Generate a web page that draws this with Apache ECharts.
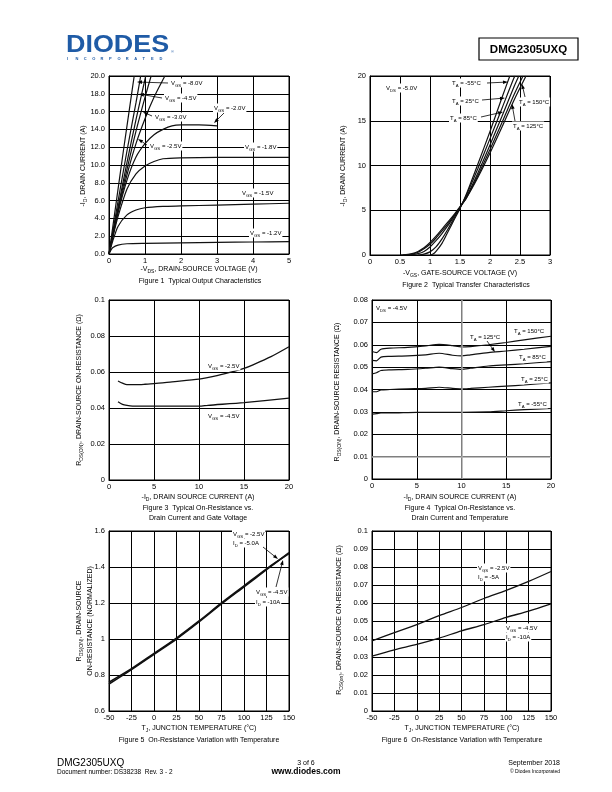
<!DOCTYPE html>
<html><head><meta charset="utf-8">
<script src="https://cdn.jsdelivr.net/npm/echarts@6/dist/echarts.min.js"></script>
<style>html,body{margin:0;padding:0;background:#fff}#c{width:612px;height:792px}</style>
</head><body><div id="c"></div>
<script>
// ---------------- DATA ----------------
// Figure 1: Output characteristics  [-VDS (V), -ID (A)]
const fig1_vgs_m8_0 = [[0,0],[0.2,5.8],[0.4,11.6],[0.6,17.2],[0.7,20]];
const fig1_vgs_m4_5 = [[0,0],[0.25,5.9],[0.5,11.6],[0.75,17.0],[0.88,20]];
const fig1_vgs_m3_0 = [[0,0],[0.25,5.2],[0.5,10.3],[0.75,15.1],[1.02,20]];
const fig1_vgs_extra = [[0,0],[0.25,5.0],[0.5,9.5],[0.75,13.8],[1.0,17.6],[1.17,20]];
const fig1_vgs_m2_5 = [[0,0],[0.25,4.8],[0.5,8.9],[0.75,12.4],[1.0,15.2],[1.25,17.6],[1.5,19.6],[1.55,20]];
const fig1_vgs_m2_0 = [[0,0],[0.25,4.6],[0.5,8.3],[0.75,10.9],[1,12.4],[1.25,13.4],[1.5,14.0],[1.75,14.4],[2,14.5],[2.5,14.5],[3,14.4]];
const fig1_vgs_m1_8 = [[0,0],[0.1,1.8],[0.25,4.2],[0.5,7.3],[0.75,9.0],[1,9.9],[1.25,10.4],[1.5,10.7],[2,10.8],[3,10.85],[4,10.85],[5,10.85]];
const fig1_vgs_m1_5 = [[0,0],[0.1,1.4],[0.25,3.1],[0.5,4.4],[0.75,4.95],[1,5.2],[1.5,5.35],[2,5.4],[3,5.5],[4,5.6],[5,5.7]];
const fig1_vgs_m1_2 = [[0,0],[0.05,0.4],[0.1,0.7],[0.25,1.0],[0.5,1.15],[1,1.2],[2,1.25],[3,1.3],[4,1.35],[5,1.4]];

// Figure 2: Transfer characteristics [-VGS (V), -ID (A)]
const fig2_ta_m55 = [[1.0,0],[1.05,0.1],[1.1,0.4],[1.2,1.3],[1.3,2.6],[1.4,3.9],[1.5,5.2],[1.6,6.7],[1.8,10.2],[2.0,13.8],[2.2,17.6],[2.33,20]];
const fig2_ta_25 = [[0.8,0],[0.9,0.1],[1.0,0.35],[1.1,0.9],[1.2,1.8],[1.3,2.9],[1.4,4.1],[1.5,5.3],[1.6,6.6],[1.8,9.7],[2.0,13.0],[2.2,16.4],[2.4,19.8],[2.42,20]];
const fig2_ta_85 = [[0.6,0],[0.7,0.05],[0.8,0.15],[0.9,0.4],[1.0,0.9],[1.1,1.6],[1.2,2.4],[1.3,3.3],[1.4,4.3],[1.5,5.3],[1.6,6.4],[1.8,9.2],[2.0,12.3],[2.2,15.5],[2.4,18.8],[2.48,20]];
const fig2_ta_125 = [[0.55,0],[0.7,0.1],[0.8,0.3],[0.9,0.7],[1.0,1.2],[1.1,1.9],[1.2,2.7],[1.3,3.5],[1.4,4.4],[1.5,5.35],[1.6,6.3],[1.8,8.9],[2.0,11.8],[2.2,14.8],[2.4,17.9],[2.55,20]];
const fig2_ta_150 = [[0.5,0],[0.6,0.05],[0.7,0.15],[0.8,0.4],[0.9,0.8],[1.0,1.4],[1.1,2.1],[1.2,2.9],[1.3,3.7],[1.4,4.5],[1.5,5.4],[1.6,6.3],[1.8,8.7],[2.0,11.4],[2.2,14.3],[2.4,17.3],[2.6,20]];

// Figure 3: RDS(ON) vs -ID, gate voltage [-ID (A), RDS (ohm)]
const fig3_vgs_m2_5 = [[1,0.055],[1.5,0.0538],[2,0.053],[3,0.053],[4,0.0532],[5,0.0535],[7,0.0545],[10,0.056],[12,0.058],[14,0.0605],[15,0.062],[16,0.064],[18,0.0685],[20,0.074]];
const fig3_vgs_m4_5 = [[1,0.0435],[1.5,0.042],[2,0.0415],[3,0.041],[5,0.041],[10,0.041],[11,0.0415],[15,0.043],[20,0.0455]];

// Figure 4: RDS(ON) vs -ID, temperature
const fig4_ta_150 = [[0,0.057],[0.5,0.0565],[1,0.058],[2,0.0585],[4,0.0588],[6,0.0595],[7.5,0.0602],[9,0.0596],[10,0.059],[11,0.0592],[13,0.060],[15,0.061],[17,0.0622],[20,0.0638]];
const fig4_ta_125 = [[0,0.053],[0.5,0.0528],[1,0.0545],[2,0.0548],[4,0.055],[6,0.0555],[7.5,0.0562],[9,0.0553],[10,0.055],[11,0.0555],[13,0.0565],[15,0.0572],[17,0.058],[20,0.0593]];
const fig4_ta_85 = [[0,0.047],[0.5,0.0475],[1,0.0485],[2,0.0488],[4,0.049],[6,0.0495],[7.5,0.050],[9,0.0493],[10,0.049],[11,0.0495],[13,0.0505],[15,0.051],[17,0.0515],[20,0.0525]];
const fig4_ta_25 = [[0,0.039],[0.5,0.039],[1,0.0398],[2,0.040],[4,0.0403],[6,0.0405],[7.5,0.041],[9,0.0405],[10,0.0403],[11,0.0405],[13,0.041],[15,0.0415],[17,0.042],[20,0.043]];
const fig4_ta_m55 = [[0,0.029],[0.5,0.0292],[1,0.0295],[2,0.0295],[5,0.0298],[10,0.0298],[13,0.030],[15,0.0305],[17,0.031],[20,0.0315]];

// Figure 5: normalized RDS(ON) vs TJ
const fig5_vgs_m2_5 = [[-50,0.75],[-25,0.83],[0,0.915],[25,1.0],[50,1.095],[75,1.195],[100,1.29],[125,1.385],[150,1.48]];
const fig5_vgs_m4_5 = [[-50,0.76],[-25,0.835],[0,0.92],[25,1.005],[50,1.1],[75,1.2],[100,1.295],[125,1.39],[150,1.475]];

// Figure 6: RDS(ON) vs TJ
const fig6_vgs_m2_5 = [[-50,0.039],[-25,0.0435],[0,0.048],[25,0.053],[50,0.0575],[75,0.0625],[100,0.067],[125,0.072],[150,0.0775]];
const fig6_vgs_m4_5 = [[-50,0.0305],[-25,0.034],[0,0.037],[25,0.0405],[50,0.0445],[75,0.048],[100,0.052],[125,0.0555],[150,0.0595]];

// ---------------- RENDER ----------------
const FONT = '"Liberation Sans", Arial, Helvetica, sans-serif';
const chart = echarts.init(document.getElementById('c'), null, {renderer:'canvas'});

const grids = [
  {left:109, top:76, width:180, height:178},
  {left:370, top:76, width:180, height:179},
  {left:109, top:300, width:180, height:180},
  {left:372, top:300, width:179, height:179},
  {left:109, top:531, width:180, height:180},
  {left:372, top:531, width:179, height:180}
].map(g => Object.assign({show:true, borderColor:'#000', borderWidth:1, containLabel:false}, g));

function axis(gi, min, max, interval, fmt, isY){
  return {
    gridIndex:gi, type:'value', min, max, interval,
    axisLine:{show:true, onZero:false, lineStyle:{color:'#000', width:1}},
    axisTick:{show:false},
    splitLine:{show:true, lineStyle:{color:'#000', width:1}},
    axisLabel:{fontSize:7.5, color:'#000', fontFamily:FONT, margin:isY?4:3, formatter:fmt, showMinLabel:true, showMaxLabel:true}
  };
}
const xAxes = [
  axis(0,0,5,1,null,false), axis(1,0,3,0.5,null,false), axis(2,0,20,5,null,false),
  axis(3,0,20,5,null,false), axis(4,-50,150,25,null,false), axis(5,-50,150,25,null,false)
];
const yAxes = [
  axis(0,0,20,2,v=>v.toFixed(1),true), axis(1,0,20,5,null,true), axis(2,0,0.1,0.02,null,true),
  axis(3,0,0.08,0.01,null,true), axis(4,0.6,1.6,0.2,null,true), axis(5,0,0.1,0.01,null,true)
];

function ser(gi, name, data, extra){
  return Object.assign({type:'line', name, xAxisIndex:gi, yAxisIndex:gi, data, showSymbol:false, symbol:'none',
    smooth:0.25, clip:true, silent:true,
    lineStyle:{color:'#111', width:1.2}}, extra||{});
}
const series = [
  ser(0,'VGS=-8.0V',fig1_vgs_m8_0), ser(0,'VGS=-4.5V',fig1_vgs_m4_5), ser(0,'VGS=-3.0V',fig1_vgs_m3_0),
  ser(0,'extra',fig1_vgs_extra), ser(0,'VGS=-2.5V',fig1_vgs_m2_5), ser(0,'VGS=-2.0V',fig1_vgs_m2_0),
  ser(0,'VGS=-1.8V',fig1_vgs_m1_8), ser(0,'VGS=-1.5V',fig1_vgs_m1_5), ser(0,'VGS=-1.2V',fig1_vgs_m1_2),
  ser(1,'TA=-55',fig2_ta_m55), ser(1,'TA=25',fig2_ta_25), ser(1,'TA=85',fig2_ta_85),
  ser(1,'TA=125',fig2_ta_125), ser(1,'TA=150',fig2_ta_150),
  ser(2,'VGS=-2.5V',fig3_vgs_m2_5,{lineStyle:{color:'#111',width:1.3}}), ser(2,'VGS=-4.5V',fig3_vgs_m4_5,{lineStyle:{color:'#111',width:1.3}}),
  ser(3,'TA=150',fig4_ta_150,{markLine:{silent:true,symbol:'none',label:{show:false},lineStyle:{color:'#aaa',width:1.5,type:'solid'},data:[{xAxis:10},{yAxis:0.01}]}}),
  ser(3,'TA=125',fig4_ta_125), ser(3,'TA=85',fig4_ta_85), ser(3,'TA=25',fig4_ta_25), ser(3,'TA=-55',fig4_ta_m55),
  ser(4,'VGS=-2.5V',fig5_vgs_m2_5,{smooth:0.3,lineStyle:{color:'#111',width:1.6}}), ser(4,'VGS=-4.5V',fig5_vgs_m4_5,{smooth:0.3,lineStyle:{color:'#111',width:1.6}}),
  ser(5,'VGS=-2.5V',fig6_vgs_m2_5,{smooth:0.3,lineStyle:{color:'#111',width:1.3}}), ser(5,'VGS=-4.5V',fig6_vgs_m4_5,{smooth:0.3,lineStyle:{color:'#111',width:1.3}})
];

// ---- text helpers ----
function richText(parts){ return parts.map(p => p[0]==='_' ? `{s|${p.slice(1)}}` : `{n|${p}}`).join(''); }
function richStyles(size){
  return {
    n:{fontSize:size, fontFamily:FONT, fill:'#000', color:'#000', lineHeight:size+3, verticalAlign:'middle'},
    s:{fontSize:Math.round(size*0.72*10)/10, fontFamily:FONT, fill:'#000', color:'#000', lineHeight:size+3, verticalAlign:'bottom'}
  };
}
function T(x, y, parts, size, opt){
  opt = opt || {};
  const st = {text:richText(parts), rich:richStyles(size), fontSize:size, fontFamily:FONT, fill:'#000',
    align:opt.align||'left', textAlign:opt.align||'left', verticalAlign:'middle', textVerticalAlign:'middle'};
  if (opt.bg) { st.backgroundColor = '#fff'; st.padding = [0,1]; }
  const el = {type:'text', x, y, z:100, silent:true, style:st};
  if (opt.rot) el.rotation = opt.rot;
  return el;
}
function P(x, y, text, size, opt){
  opt = opt || {};
  const el = {type:'text', x, y, z:100, silent:true, style:{text, fontSize:size, fontFamily:opt.family||FONT, fontWeight:opt.weight||'normal',
    fill:opt.color||'#000', align:opt.align||'left', textAlign:opt.align||'left', verticalAlign:'middle', textVerticalAlign:'middle'}};
  if (opt.rot) el.rotation = opt.rot;
  if (opt.scaleX) el.scaleX = opt.scaleX;
  return el;
}
function arrow(x1,y1,x2,y2){
  const a = Math.atan2(y2-y1, x2-x1), L = 5, W = 1.8;
  const bx = x2 - L*Math.cos(a), by = y2 - L*Math.sin(a);
  return [
    {type:'line', z:101, silent:true, shape:{x1,y1,x2:bx,y2:by}, style:{stroke:'#000', lineWidth:0.8}},
    {type:'polygon', z:101, silent:true, shape:{points:[[x2,y2],[bx+W*Math.sin(a), by-W*Math.cos(a)],[bx-W*Math.sin(a), by+W*Math.cos(a)]]}, style:{fill:'#000'}}
  ];
}
const R = Math.PI/2;
const AS = 6; // annotation size

const graphic = [
  // header logo
  P(66, 45, 'DIODES', 24, {weight:'bold', color:'#1f5ba6', scaleX:1.12}),
  P(171, 52, '®', 4, {color:'#1f5ba6'}),
  ...'INCORPORATED'.split('').map((ch,i) => P(67 + i*8.4, 59, ch, 4, {color:'#1f5ba6', weight:'bold'})),
  {type:'rect', z:100, silent:true, shape:{x:479, y:38, width:99, height:22}, style:{fill:'none', stroke:'#000', lineWidth:1.2}},
  P(528.5, 49.5, 'DMG2305UXQ', 11.5, {weight:'bold', align:'center'}),

  // ---- Figure 1 ----
  T(83, 166, ['-I','_D',', DRAIN CURRENT (A)'], 7, {align:'center', rot:R}),
  T(199, 269, ['-V','_DS',', DRAIN-SOURCE VOLTAGE (V)'], 7, {align:'center'}),
  P(200, 281, 'Figure 1  Typical Output Characteristics', 7, {align:'center'}),
  T(170, 83, ['V','_GS',' = -8.0V'], AS, {bg:true}), ...arrow(168,83,137,82),
  T(164, 98, ['V','_GS',' = -4.5V'], AS, {bg:true}), ...arrow(162,98,139,94),
  T(154, 117, ['V','_GS',' = -3.0V'], AS, {bg:true}), ...arrow(152,116,143,112),
  T(149, 146, ['V','_GS',' = -2.5V'], AS, {bg:true}), ...arrow(147,145,138,139),
  T(213, 108, ['V','_GS',' = -2.0V'], AS, {bg:true}), ...arrow(224,113,214,123),
  T(244, 147, ['V','_GS',' = -1.8V'], AS, {bg:true}),
  T(241, 193, ['V','_GS',' = -1.5V'], AS, {bg:true}),
  T(249, 233, ['V','_GS',' = -1.2V'], AS, {bg:true}),

  // ---- Figure 2 ----
  T(343, 166, ['-I','_D',', DRAIN CURRENT (A)'], 7, {align:'center', rot:R}),
  T(460, 273, ['-V','_GS',', GATE-SOURCE VOLTAGE (V)'], 7, {align:'center'}),
  P(466, 285, 'Figure 2  Typical Transfer Characteristics', 7, {align:'center'}),
  T(385, 88, ['V','_DS',' = -5.0V'], AS, {bg:true}),
  T(451, 83, ['T','_A',' = -55°C'], AS, {bg:true}), ...arrow(487,83,508,82),
  T(451, 101, ['T','_A',' = 25°C'], AS, {bg:true}), ...arrow(482,100,505,98),
  T(449, 118, ['T','_A',' = 85°C'], AS, {bg:true}), ...arrow(481,117,503,112),
  T(518, 102, ['T','_A',' = 150°C'], AS, {bg:true}), ...arrow(525,97,522,84),
  T(512, 126, ['T','_A',' = 125°C'], AS, {bg:true}), ...arrow(515,121,512,104),

  // ---- Figure 3 ----
  T(79, 390, ['R','_DS(ON)',', DRAIN-SOURCE ON-RESISTANCE (Ω)'], 7, {align:'center', rot:R}),
  T(198, 497, ['-I','_D',', DRAIN SOURCE CURRENT (A)'], 7, {align:'center'}),
  P(198, 508, 'Figure 3  Typical On-Resistance vs.', 7, {align:'center'}),
  P(198, 518, 'Drain Current and Gate Voltage', 7, {align:'center'}),
  T(207, 366, ['V','_GS',' = -2.5V'], AS, {bg:true}),
  T(207, 416, ['V','_GS',' = -4.5V'], AS, {bg:true}),

  // ---- Figure 4 ----
  T(337, 392, ['R','_DS(ON)',', DRAIN-SOURCE RESISTANCE (Ω)'], 7, {align:'center', rot:R}),
  T(460, 497, ['-I','_D',', DRAIN SOURCE CURRENT (A)'], 7, {align:'center'}),
  P(460, 508, 'Figure 4  Typical On-Resistance vs.', 7, {align:'center'}),
  P(460, 518, 'Drain Current and Temperature', 7, {align:'center'}),
  T(375, 308, ['V','_DS',' = -4.5V'], AS, {bg:true}),
  T(513, 331, ['T','_A',' = 150°C'], AS, {bg:true}),
  T(469, 337, ['T','_A',' = 125°C'], AS, {bg:true}), ...arrow(487,341,495,352),
  T(518, 357, ['T','_A',' = 85°C'], AS, {bg:true}),
  T(520, 379, ['T','_A',' = 25°C'], AS, {bg:true}),
  T(517, 404, ['T','_A',' = -55°C'], AS, {bg:true}),

  // ---- Figure 5 ----
  T(79, 621, ['R','_DS(ON)',', DRAIN-SOURCE'], 7, {align:'center', rot:R}),
  P(90, 621, 'ON-RESISTANCE (NORMALIZED)', 7, {align:'center', rot:R}),
  T(199, 728, ['T','_J',', JUNCTION TEMPERATURE (°C)'], 7, {align:'center'}),
  P(199, 740, 'Figure 5  On-Resistance Variation with Temperature', 7, {align:'center'}),
  T(232, 534, ['V','_GS',' = -2.5V'], AS, {bg:true}),
  T(232, 543, ['I','_D',' = -5.0A'], AS, {bg:true}), ...arrow(263,547,278,559),
  T(255, 592, ['V','_GS',' = -4.5V'], AS, {bg:true}),
  T(255, 602, ['I','_D',' = -10A'], AS, {bg:true}), ...arrow(276,587,283,560),

  // ---- Figure 6 ----
  T(339, 620, ['R','_DS(on)',', DRAIN-SOURCE ON-RESISTANCE (Ω)'], 7, {align:'center', rot:R}),
  T(462, 728, ['T','_J',', JUNCTION TEMPERATURE (°C)'], 7, {align:'center'}),
  P(462, 740, 'Figure 6  On-Resistance Variation with Temperature', 7, {align:'center'}),
  T(477, 568, ['V','_GS',' = -2.5V'], AS, {bg:true}),
  T(477, 577, ['I','_D',' = -5A'], AS, {bg:true}),
  T(505, 628, ['V','_GS',' = -4.5V'], AS, {bg:true}),
  T(505, 637, ['I','_D',' = -10A'], AS, {bg:true}),

  // ---- footer ----
  P(57, 763, 'DMG2305UXQ', 10),
  P(57, 772, 'Document number: DS38238  Rev. 3 - 2', 6.5),
  P(306, 763, '3 of 6', 7, {align:'center'}),
  P(306, 772, 'www.diodes.com', 8.5, {align:'center', weight:'bold'}),
  P(560, 763, 'September 2018', 7, {align:'right'}),
  P(560, 772, '© Diodes Incorporated', 5, {align:'right'})
];

chart.setOption({
  animation:false,
  backgroundColor:'#fff',
  textStyle:{fontFamily:FONT},
  grid:grids, xAxis:xAxes, yAxis:yAxes, series, graphic
});
</script></body></html>
